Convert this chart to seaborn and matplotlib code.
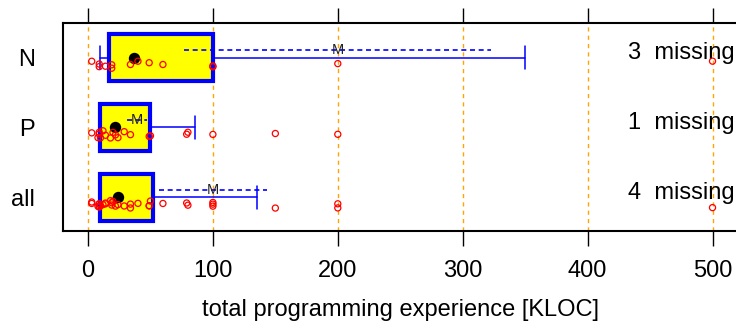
import numpy as np
import pandas as pd
import matplotlib
matplotlib.use("Agg")
import matplotlib.pyplot as plt
import matplotlib.transforms as mtransforms
import seaborn as sns

# ---------------- data ----------------
groups = ["N", "P", "all"]
n_values = [3, 9, 9, 14, 19, 19, 34, 40, 49, 60, 100, 100, 200, 500]
p_values = [3, 8, 9, 9, 10, 12, 14, 18, 20, 22, 24, 29, 34, 49, 50, 79, 80,
            100, 150, 200]
all_values = n_values + p_values

q10 = [10, 10, 10]
q25 = [17, 10, 10]
median = [37, 22, 24]
q75 = [100, 50, 52]
q90 = [350, 86, 135]
mean = [200, 39, 100]
se = [123, 8, 43]
missing = [3, 1, 4]

xticks = [0, 100, 200, 300, 400, 500]
xlabel = "total programming experience [KLOC]"

# ---------------- style ----------------
sns.set_theme(style="ticks")
plt.rcParams["font.family"] = ["Liberation Sans", "DejaVu Sans"]
plt.rcParams["text.color"] = "black"
plt.rcParams["axes.labelcolor"] = "black"
plt.rcParams["xtick.labelcolor"] = "black"
plt.rcParams["ytick.labelcolor"] = "black"
FS = 17

df = pd.DataFrame({
    "group": ["N"] * len(n_values) + ["P"] * len(p_values) + ["all"] * len(all_values),
    "kloc": n_values + p_values + all_values,
})

fig = plt.figure(figsize=(7.36, 3.27), dpi=100)
ax = fig.add_axes([63 / 736, 1 - 231 / 327, (737.5 - 63) / 736, 208 / 327])

pos = np.arange(len(groups))

# grid
ax.set_xticks(xticks)
ax.xaxis.grid(True, color="#FFA500", linestyle=(0, (3, 3)), linewidth=1.0)
ax.set_axisbelow(True)

# boxes (10/25/75/90 percentiles)
stats = [dict(whislo=q10[i], q1=q25[i], med=median[i], q3=q75[i],
              whishi=q90[i], label=groups[i]) for i in range(len(groups))]
ax.bxp(stats, positions=pos, widths=0.68, orientation="horizontal",
       patch_artist=True, showfliers=False, manage_ticks=False,
       boxprops=dict(facecolor="#FFFF00", edgecolor="#0000FF", linewidth=3.0),
       whiskerprops=dict(color="#0000FF", linewidth=1.1),
       capprops=dict(color="#0000FF", linewidth=1.1),
       medianprops=dict(linewidth=0),
       capwidths=0.33, zorder=2)

# median dots
ax.scatter(median, pos, s=8.2 ** 2, color="black", zorder=3, linewidths=0)

# mean +- standard error
for i in range(len(groups)):
    ax.hlines(pos[i] - 0.11, mean[i] - se[i], mean[i] + se[i], colors="#0000FF",
              linestyles=(0, (3, 2.2)), linewidth=1.2, zorder=3)
    ax.text(mean[i], pos[i] - 0.11, "M", ha="center", va="center",
            fontsize=10.5, color="#222222", zorder=5)

# raw data points
np.random.seed(7)
shift = mtransforms.ScaledTranslation(0, -7 / 100, fig.dpi_scale_trans)
sns.stripplot(data=df, x="kloc", y="group", order=groups, orient="h",
              jitter=0.055, color="red", size=4.4, linewidth=0.9, ax=ax,
              zorder=4, transform=ax.transData + shift)
for coll in ax.collections:
    if coll.get_zorder() == 4:
        coll.set_facecolor("none")
        coll.set_edgecolor("red")

# missing counts
for i in range(len(groups)):
    ax.text(432, pos[i] + 0.015, f"{missing[i]}  missing", fontsize=FS,
            ha="left", va="baseline", color="black", clip_on=False)

ax.set_xlim(-20, 520)
ax.set_ylim(2.479, -0.493)
ax.set_yticks(pos)
ax.set_yticklabels(groups)
ax.set_ylabel("")
ax.set_xlabel(xlabel, fontsize=FS, labelpad=12, color="black")

ax.tick_params(axis="x", direction="out", length=11, width=1, top=True,
               labeltop=False, labelsize=FS, pad=10, color="black",
               labelcolor="black")
ax.tick_params(axis="y", length=0, pad=20, labelsize=FS, labelcolor="black")
for sp in ax.spines.values():
    sp.set_visible(True)
    sp.set_color("black")
    sp.set_linewidth(1.5)

fig.savefig("out.png", dpi=100)
